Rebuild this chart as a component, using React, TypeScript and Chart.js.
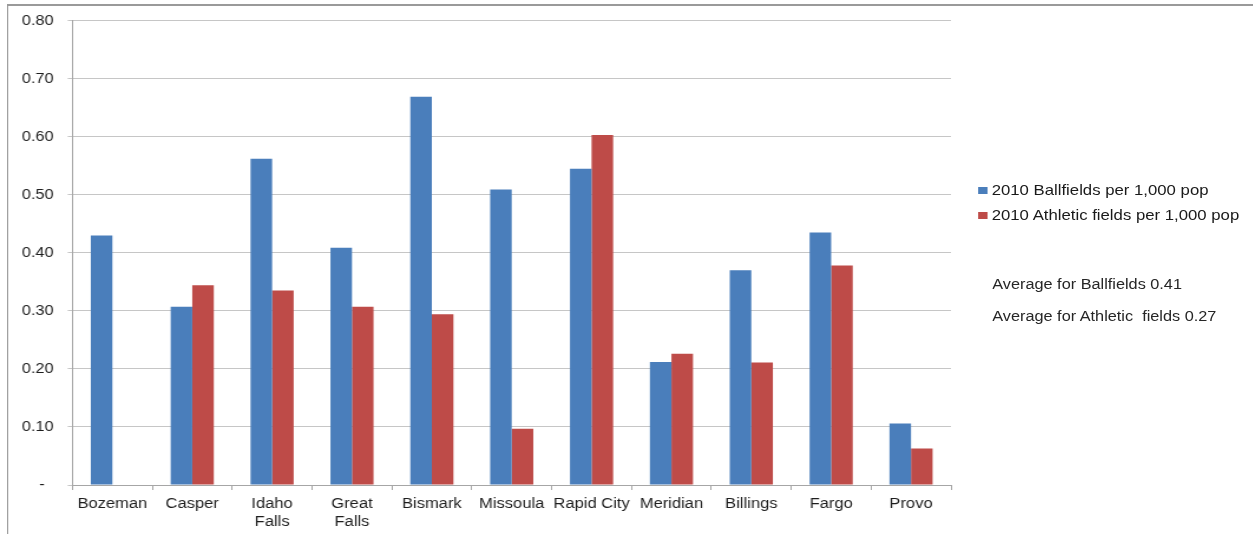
import React, { useEffect, useRef } from 'react';
import { Chart, registerables } from 'chart.js';

Chart.register(...registerables);

const categories: (string | string[])[] = [
  'Bozeman', 'Casper', ['Idaho', 'Falls'], ['Great', 'Falls'], 'Bismark', 'Missoula',
  'Rapid City', 'Meridian', 'Billings', 'Fargo', 'Provo',
];
const ballfields = [0.43, 0.307, 0.562, 0.409, 0.669, 0.509, 0.545, 0.212, 0.37, 0.435, 0.106];
const athletic = [0, 0.344, 0.335, 0.307, 0.294, 0.097, 0.603, 0.226, 0.211, 0.378, 0.063];
const seriesNames = ['2010 Ballfields per 1,000 pop', '2010 Athletic fields per 1,000 pop'];
const seriesColors = ['#4a7ebb', '#be4b48'];
const notes = ['Average for Ballfields 0.41', 'Average for Athletic  fields 0.27'];
const yMin = 0;
const yMax = 0.8;
const yStep = 0.1;

const W = 1253;
const DW = 1062;
const H = 534;
const S = W / DW;
const FONT = '"Liberation Sans", Arial, Helvetica, sans-serif';

export default function App() {
  const ref = useRef<HTMLCanvasElement | null>(null);

  useEffect(() => {
    if (!ref.current) return;
    Chart.defaults.font.family = FONT;
    const chart = new Chart(ref.current, {
      type: 'bar',
      data: {
        labels: categories,
        datasets: [
          { label: seriesNames[0], data: ballfields, backgroundColor: seriesColors[0], categoryPercentage: 0.54, barPercentage: 1 },
          { label: seriesNames[1], data: athletic, backgroundColor: seriesColors[1], categoryPercentage: 0.54, barPercentage: 1 },
        ],
      },
      options: {
        animation: false,
        responsive: false,
        maintainAspectRatio: false,
        layout: { padding: { left: 0, top: 20.7, right: 256, bottom: 0 } },
        plugins: { legend: { display: false }, tooltip: { enabled: false } },
        scales: {
          x: {
            grid: { display: true, drawOnChartArea: false, drawTicks: true, tickLength: 5, color: '#a6a6a6', offset: true },
            border: { color: '#a6a6a6' },
            ticks: { font: { size: 14, lineHeight: 1.3 }, color: '#1e1e1e', padding: 5, maxRotation: 0, autoSkip: false },
            afterFit: (s: any) => { s.height = 49; },
          },
          y: {
            min: yMin,
            max: yMax,
            ticks: {
              stepSize: yStep,
              font: { size: 13.8 },
              color: '#1e1e1e',
              padding: 12,
              callback: (v: any) => (Math.abs(Number(v)) < 1e-9 ? '-  ' : Number(v).toFixed(2)),
            },
            grid: { color: '#c6c6c6', tickLength: 4 },
            border: { color: '#a6a6a6' },
            afterFit: (s: any) => { s.width = 61.4; },
          },
        },
      },
    });
    return () => chart.destroy();
  }, []);

  const textStyle: React.CSSProperties = {
    position: 'absolute',
    fontFamily: FONT,
    fontSize: 14.2,
    lineHeight: '16px',
    color: '#1a1a1a',
    whiteSpace: 'pre',
  };

  return (
    <div style={{ position: 'absolute', left: 0, top: 0, width: W, height: H, overflow: 'hidden', background: '#fff' }}>
      <div style={{ position: 'absolute', left: 0, top: 0, width: DW, height: H, transform: `scaleX(${S})`, transformOrigin: '0 0' }}>
        <div style={{ position: 'absolute', left: 5.5, top: 3.5, width: DW + 50, height: H + 50, borderLeft: '1.7px solid #9a9a9a', borderTop: '2px solid #9a9a9a' }} />
        <canvas ref={ref} width={DW} height={H} style={{ position: 'absolute', left: 0, top: 0, width: DW, height: H }} />
        {seriesNames.map((name, i) => (
          <React.Fragment key={name}>
            <div style={{ position: 'absolute', left: 829, top: 187 + i * 25, width: 7.5, height: 6.5, background: seriesColors[i] }} />
            <div style={{ ...textStyle, left: 840.5, top: 182 + i * 25 }}>{name}</div>
          </React.Fragment>
        ))}
        {notes.map((n, i) => (
          <div key={n} style={{ ...textStyle, fontSize: 13.8, left: 841, top: 277 + i * 32, color: '#262626' }}>{n}</div>
        ))}
      </div>
    </div>
  );
}
